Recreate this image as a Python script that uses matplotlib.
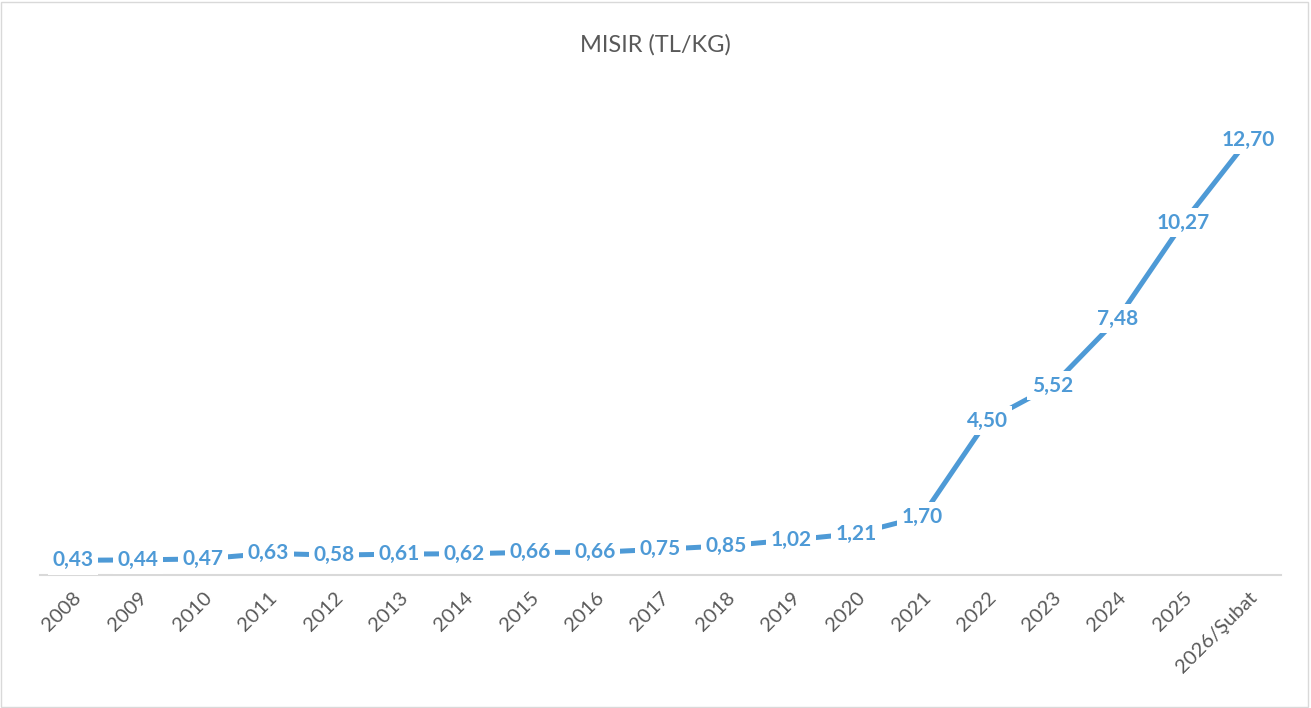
import matplotlib.pyplot as plt
from matplotlib.patches import Rectangle

years = ['2008', '2009', '2010', '2011', '2012', '2013', '2014', '2015', '2016',
         '2017', '2018', '2019', '2020', '2021', '2022', '2023', '2024', '2025',
         '2026/Şubat']
prices = [0.43, 0.44, 0.47, 0.63, 0.58, 0.61, 0.62, 0.66, 0.66,
          0.75, 0.85, 1.02, 1.21, 1.70, 4.50, 5.52, 7.48, 10.27, 12.70]

blue = '#4E9AD6'
gray = '#595959'

fig = plt.figure(figsize=(13.11, 7.08), dpi=100)
ax = fig.add_axes([40 / 1311, 133 / 708, 1241 / 1311, 480 / 708])

x = list(range(len(years)))
ax.plot(x, prices, color=blue, lw=3.6, solid_capstyle='butt', zorder=2)

# etiketler noktanin ustunde, beyaz kutu cizgiyi keser
for xi, v in zip(x, prices):
    ax.text(xi, v, f'{v:.2f}'.replace('.', ','), ha='center', va='center',
            fontsize=15, fontweight='bold', color=blue, family='Lato',
            bbox=dict(boxstyle='square,pad=0.22', fc='white', ec='none'),
            zorder=3)

ax.set_xlim(-0.5, len(years) - 0.5)
ax.set_ylim(0, 14)
ax.set_xticks(x)
ax.set_xticklabels(years, rotation=45, ha='right', rotation_mode='anchor',
                   fontsize=14.5, color=gray, family='Lato')
ax.tick_params(axis='x', length=0, pad=10)
ax.set_yticks([])
for s in ['top', 'left', 'right']:
    ax.spines[s].set_visible(False)
ax.spines['bottom'].set_color('#D9D9D9')
ax.spines['bottom'].set_linewidth(1.5)

fig.text(0.5, 1 - 45 / 708, 'MISIR (TL/KG)', ha='center', va='center',
         fontsize=17, color=gray, family='Lato')

fig.patches.append(Rectangle((1 / 1311, 1 / 708), 1307 / 1311, 705 / 708,
                             transform=fig.transFigure, fill=False,
                             ec='#D9D9D9', lw=1))

fig.savefig('out.png', dpi=100)
